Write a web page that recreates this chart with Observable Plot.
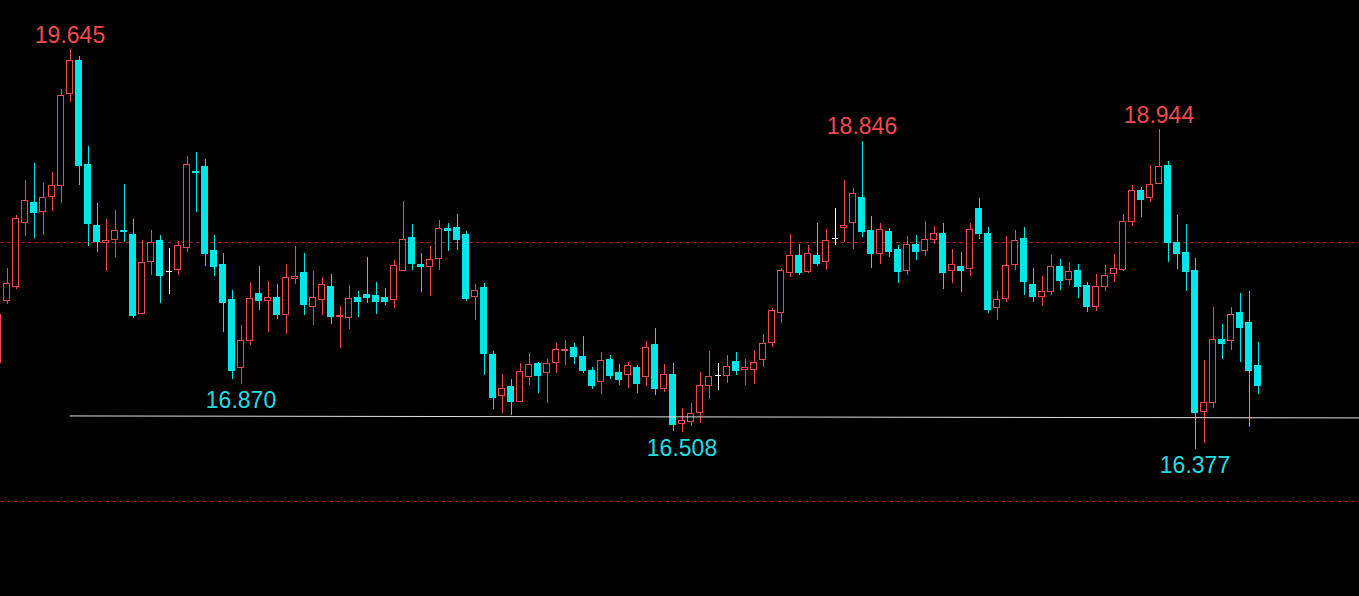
<!DOCTYPE html>
<html>
<head>
<meta charset="utf-8">
<script src="https://cdn.jsdelivr.net/npm/d3@7"></script>
<script src="https://cdn.jsdelivr.net/npm/@observablehq/plot@0.6"></script>
<style>
  html, body { margin: 0; padding: 0; background: #000; overflow: hidden; }
  #chart svg { display: block; }
</style>
</head>
<body>
<div id="chart"></div>
<script>
// Bar index of the first candle (the partially visible one at the left edge)
const firstBar = -1;

const open = [
  17.038,
  17.527, 17.639, 18.156, 18.324, 18.251, 18.376, 18.465, 19.254, 19.545, 18.644,
  18.133, 17.994, 18.016, 18.090, 18.059, 17.420, 17.837, 18.010, 17.764, 17.774,
  17.947, 18.584, 18.627, 17.928, 17.815, 17.533, 16.997, 17.211, 17.581, 17.527,
  17.549, 17.413, 17.699, 17.750, 17.472, 17.531, 17.637, 17.393, 17.389, 17.547,
  17.573, 17.565, 17.549, 17.531, 17.764, 18.033, 17.813, 17.797, 17.861, 18.108,
  18.116, 18.059, 17.559, 17.629, 17.100, 16.786, 16.851, 16.740, 16.931, 17.032,
  16.958, 17.036, 17.131, 17.152, 17.085, 16.974, 16.893, 17.059, 16.960, 16.943,
  16.999, 16.927, 17.178, 16.839, 16.943, 16.570, 16.589, 16.656, 16.858, 16.943,
  16.939, 17.044, 16.982, 16.986, 17.059, 17.191, 17.428, 17.752, 17.885, 17.760,
  17.887, 17.837, 18.026, 18.114, 18.156, 18.366, 18.092, 17.898, 18.084, 17.937,
  17.764, 17.977, 17.926, 18.018, 18.067, 17.768, 17.797, 17.784, 18.274, 18.065,
  17.468, 17.539, 17.813, 18.024, 17.651, 17.559, 17.595, 17.797, 17.691, 17.766,
  17.643, 17.476, 17.639, 17.740, 17.774, 18.164, 18.423, 18.364, 18.477, 18.632,
  17.994, 17.912, 17.766, 16.664, 16.729, 17.217, 17.209, 17.430, 17.351, 17.015
];
const high = [
  17.414,
  17.788, 18.216, 18.509, 18.652, 18.483, 18.576, 19.291, 19.645, 19.580, 18.797,
  18.318, 18.183, 18.258, 18.475, 18.189, 18.010, 18.092, 18.051, 17.943, 18.008,
  18.714, 18.746, 18.686, 18.051, 17.910, 17.605, 17.327, 17.675, 17.800, 17.677,
  17.653, 17.813, 17.961, 17.904, 17.758, 17.711, 17.734, 17.480, 17.645, 17.603,
  17.877, 17.669, 17.621, 17.847, 18.333, 18.141, 17.904, 17.961, 18.174, 18.149,
  18.224, 18.086, 17.653, 17.667, 17.122, 16.945, 16.906, 17.030, 17.108, 17.038,
  17.061, 17.186, 17.209, 17.191, 17.240, 17.001, 17.114, 17.098, 17.022, 17.043,
  17.020, 17.207, 17.302, 17.022, 17.036, 16.685, 16.724, 16.966, 17.122, 17.036,
  17.093, 17.114, 17.067, 17.132, 17.258, 17.464, 17.788, 18.059, 17.977, 17.969,
  18.149, 18.100, 18.274, 18.509, 18.441, 18.846, 18.206, 18.156, 18.108, 17.969,
  18.043, 18.051, 18.172, 18.131, 18.149, 17.935, 17.912, 18.149, 18.357, 18.118,
  17.597, 18.043, 18.098, 18.123, 17.788, 17.720, 17.887, 17.861, 17.837, 17.815,
  17.675, 17.734, 17.806, 17.894, 18.230, 18.467, 18.451, 18.635, 18.944, 18.671,
  18.216, 18.141, 17.869, 17.054, 17.470, 17.335, 17.470, 17.581, 17.599, 17.199
];
const low = [
  17.038,
  17.494, 17.619, 18.045, 18.028, 18.053, 18.251, 18.318, 19.179, 18.469, 17.961,
  17.914, 17.760, 17.873, 17.992, 17.385, 17.414, 17.726, 17.504, 17.573, 17.728,
  17.918, 18.239, 17.798, 17.716, 17.274, 16.906, 16.870, 17.170, 17.446, 17.274,
  17.375, 17.256, 17.655, 17.409, 17.329, 17.409, 17.335, 17.148, 17.296, 17.393,
  17.500, 17.414, 17.486, 17.464, 17.764, 17.768, 17.591, 17.559, 17.768, 17.922,
  17.930, 17.519, 17.369, 16.939, 16.677, 16.652, 16.632, 16.740, 16.860, 16.799,
  16.725, 16.958, 17.017, 17.028, 16.958, 16.830, 16.797, 16.906, 16.862, 16.839,
  16.801, 16.855, 16.786, 16.806, 16.512, 16.508, 16.551, 16.577, 16.754, 16.822,
  16.876, 16.943, 16.860, 16.868, 17.001, 17.154, 17.349, 17.708, 17.728, 17.748,
  17.799, 17.766, 17.971, 17.996, 17.935, 18.033, 17.784, 17.817, 17.877, 17.663,
  17.724, 17.849, 17.881, 17.979, 17.615, 17.663, 17.591, 17.718, 18.020, 17.428,
  17.365, 17.511, 17.772, 17.565, 17.511, 17.476, 17.571, 17.611, 17.645, 17.543,
  17.432, 17.440, 17.599, 17.671, 17.760, 18.127, 18.201, 18.326, 18.477, 17.833,
  17.776, 17.599, 16.377, 16.426, 16.691, 17.067, 17.133, 17.040, 16.544, 16.797
];
const close = [
  17.414,
  17.659, 18.189, 18.339, 18.243, 18.364, 18.465, 19.236, 19.545, 18.629, 18.152,
  18.004, 18.006, 18.090, 18.078, 17.407, 17.829, 17.994, 17.720, 17.764, 17.967,
  18.641, 18.570, 17.898, 17.800, 17.511, 16.978, 17.211, 17.541, 17.527, 17.547,
  17.409, 17.709, 17.718, 17.488, 17.549, 17.651, 17.393, 17.401, 17.539, 17.519,
  17.551, 17.519, 17.519, 17.805, 18.016, 17.817, 17.797, 17.853, 18.106, 18.090,
  18.020, 17.541, 17.605, 17.110, 16.771, 16.836, 16.740, 16.966, 17.022, 16.937,
  17.028, 17.137, 17.139, 17.079, 16.974, 16.862, 17.051, 16.939, 16.908, 17.012,
  16.878, 17.152, 16.836, 16.943, 16.562, 16.592, 16.649, 16.858, 16.927, 16.943,
  17.008, 16.978, 16.997, 17.036, 17.186, 17.446, 17.764, 17.885, 17.744, 17.902,
  17.817, 18.010, 18.026, 18.133, 18.397, 18.078, 17.898, 18.098, 17.922, 17.760,
  17.976, 17.922, 18.016, 18.065, 17.752, 17.813, 17.768, 18.098, 18.069, 17.448,
  17.531, 17.805, 18.008, 17.679, 17.559, 17.595, 17.797, 17.687, 17.756, 17.639,
  17.472, 17.639, 17.724, 17.780, 18.164, 18.423, 18.343, 18.473, 18.625, 17.988,
  17.906, 17.760, 16.652, 16.729, 17.217, 17.184, 17.413, 17.306, 16.978, 16.862
];

// Annotated extremes
const labelBar = [7, 95, 128, 26, 75, 132];
const labelValue = [19.645, 18.846, 18.944, 16.870, 16.508, 16.377];
const labelSide = ["high", "high", "high", "low", "low", "low"];

// Dashed reference price levels
const refLevels = [18, 16];

// Support trend line (bar, price)
const supportBar = [7, 151];
const supportPrice = [16.631, 16.616];

const RED = "#f04848", CYAN = "#00e6e6", WHITE = "#ffffff";
const candles = open.map((o, i) => ({
  bar: firstBar + i, open: o, high: high[i], low: low[i], close: close[i]
}));
const colorOf = d => d.close > d.open ? RED : d.close < d.open ? CYAN : WHITE;
const bodies = candles.filter(d => d.close !== d.open);
const dojis = candles.filter(d => d.close === d.open);
const labels = labelBar.map((b, i) => ({bar: b, value: labelValue[i], side: labelSide[i]}));
const support = supportBar.map((b, i) => ({bar: b, price: supportPrice[i]}));

const half = 1 / 3;
const crisp = "crispEdges";
const chart = Plot.plot({
  width: 1359,
  height: 596,
  margin: 0,
  style: {background: "#000", overflow: "hidden"},
  color: {type: "identity"},
  x: {type: "linear", domain: [-6.5 / 9, 1352.5 / 9], axis: null},
  y: {type: "log", domain: [15.32, 20.0895], axis: null},
  marks: [
    Plot.ruleY(refLevels, {y: d => d, stroke: "#9a1e1e", strokeDasharray: "4,3", strokeWidth: 1, shapeRendering: crisp}),
    Plot.ruleX(candles, {x: "bar", y1: "low", y2: "high", stroke: colorOf, strokeWidth: 1, clip: true, shapeRendering: crisp}),
    Plot.rect(bodies, {
      x1: d => d.bar - half, x2: d => d.bar + half, y1: "open", y2: "close",
      fill: d => d.close > d.open ? "#000000" : colorOf(d), stroke: colorOf, strokeWidth: 1, clip: true,
      shapeRendering: crisp
    }),
    Plot.ruleY(dojis, {y: "close", x1: d => d.bar - half, x2: d => d.bar + half, stroke: colorOf, strokeWidth: 1, shapeRendering: crisp}),
    Plot.line(support, {x: "bar", y: "price", stroke: "#e0e0e0", strokeWidth: 1, clip: true}),
    Plot.text(labels.filter(d => d.side === "high"), {
      x: "bar", y: "value", text: d => d.value.toFixed(3), fill: "#f04a4a",
      lineAnchor: "bottom", dy: -7, fontSize: 23, fontFamily: "Liberation Sans, Arial, sans-serif"
    }),
    Plot.text(labels.filter(d => d.side === "low"), {
      x: "bar", y: "value", text: d => d.value.toFixed(3), fill: "#22dde0",
      lineAnchor: "top", dy: 7, fontSize: 23, fontFamily: "Liberation Sans, Arial, sans-serif"
    })
  ]
});
document.getElementById("chart").append(chart);
</script>
</body>
</html>
